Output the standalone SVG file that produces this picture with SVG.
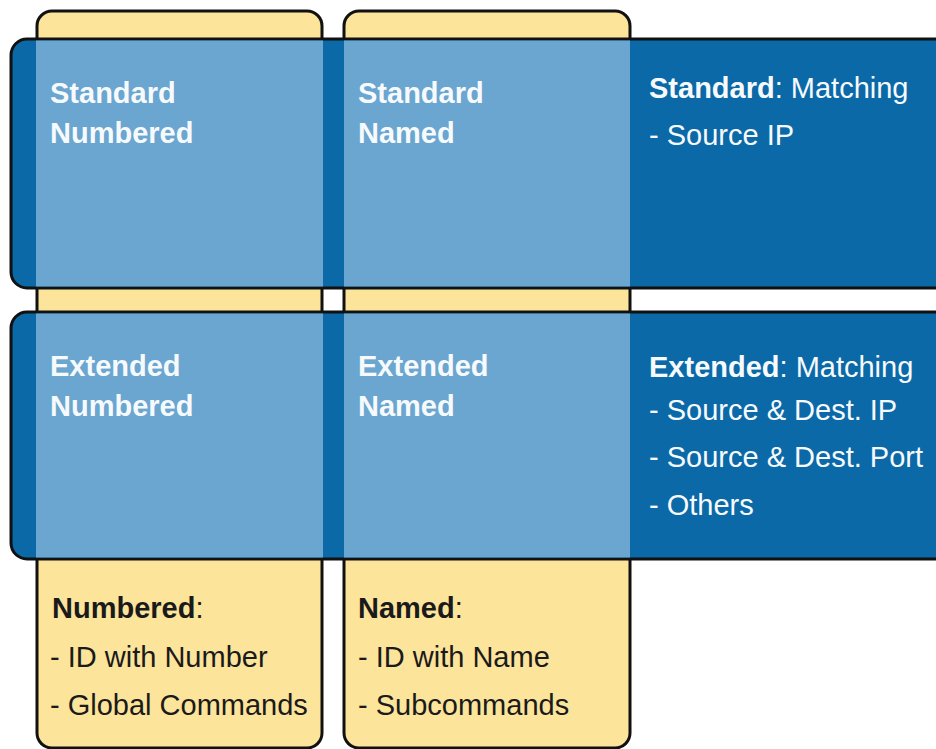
<svg xmlns="http://www.w3.org/2000/svg" width="936" height="749" viewBox="0 0 936 749">
<style>
.col{fill:#fce49b;stroke:#111;stroke-width:3}
.band{fill:#0b69a7;stroke:#111;stroke-width:3}
.lite{fill:#6aa6cf}
text{font-family:"Liberation Sans",Arial,Helvetica,sans-serif;font-size:29px}
.w{fill:#f7fafc}
.k{fill:#1a1a1a}
.b{font-weight:bold}
</style>
<rect width="936" height="749" fill="#ffffff"/>
<g id="col-numbered">
<rect class="col" x="37" y="11" width="285" height="737" rx="15"/>
</g>
<g id="col-named">
<rect class="col" x="344" y="11" width="286" height="737" rx="15"/>
</g>
<g id="band-standard">
<rect class="band" x="11" y="39" width="960" height="249" rx="16"/>
<rect class="lite" x="36" y="40.5" width="287" height="246"/>
<rect class="lite" x="344" y="40.5" width="286" height="246"/>
<text class="w b" x="50" y="103">Standard</text>
<text class="w b" x="50" y="143">Numbered</text>
<text class="w b" x="358" y="103">Standard</text>
<text class="w b" x="358" y="143">Named</text>
<text class="w" x="649" y="98"><tspan class="b">Standard</tspan>: Matching</text>
<text class="w" x="649" y="145">- Source IP</text>
</g>
<g id="band-extended">
<rect class="band" x="11" y="312" width="960" height="247" rx="16"/>
<rect class="lite" x="36" y="313.5" width="287" height="244"/>
<rect class="lite" x="344" y="313.5" width="286" height="244"/>
<text class="w b" x="50" y="376">Extended</text>
<text class="w b" x="50" y="416">Numbered</text>
<text class="w b" x="358" y="376">Extended</text>
<text class="w b" x="358" y="416">Named</text>
<text class="w" x="649" y="377"><tspan class="b">Extended</tspan>: Matching</text>
<text class="w" x="649" y="420">- Source &amp; Dest. IP</text>
<text class="w" x="649" y="467">- Source &amp; Dest. Port</text>
<text class="w" x="649" y="515">- Others</text>
</g>
<g id="numbered-notes">
<text class="k" x="52" y="618"><tspan class="b">Numbered</tspan>:</text>
<text class="k" x="50" y="667">- ID with Number</text>
<text class="k" x="50" y="715">- Global Commands</text>
</g>
<g id="named-notes">
<text class="k" x="358" y="618"><tspan class="b">Named</tspan>:</text>
<text class="k" x="358" y="667">- ID with Name</text>
<text class="k" x="358" y="715">- Subcommands</text>
</g>
<g id="connectors"/>
</svg>
